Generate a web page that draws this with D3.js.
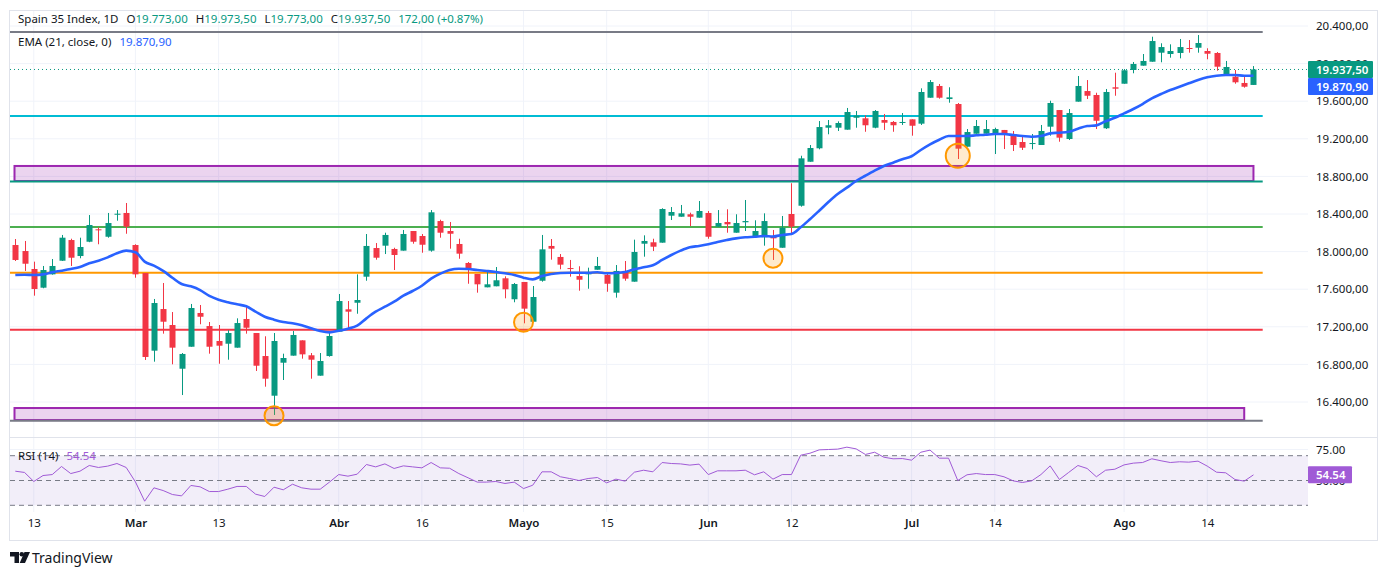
<!DOCTYPE html>
<html>
<head>
<meta charset="utf-8">
<script src="https://cdn.jsdelivr.net/npm/d3@7"></script>
<style>
  body { margin: 0; background: #fff; }
  svg { display: block; font-family: "Noto Sans", sans-serif; }
</style>
</head>
<body>
<div id="chart"></div>
<script>
// ---- data ----
const firstDay = "2026-02-11";
const lastDay = "2026-08-21";
const holidays = ["2026-04-03", "2026-04-06", "2026-05-01"];

const opens = [
  18070, 18006, 17815, 17616, 17758, 17903, 18123, 17953, 18105, 18237,
  18158, 18397, 18411, 18070, 17772, 16946, 17389, 17219, 16754, 16988,
  17347, 17208, 17049, 17020, 16978, 17283, 17134, 16889, 16467, 16818,
  16893, 17056, 16897, 16680, 16889, 17148, 17386, 17456, 17733, 18038,
  18063, 18028, 18010, 18219, 18166, 18010, 18325, 18219, 18081, 17879,
  17762, 17620, 17631, 17716, 17493, 17677, 17254, 17690, 18060, 17943,
  17825, 17740, 17758, 17807, 17751, 17563, 17794, 17680, 18084, 18099,
  18095, 18382, 18371, 18397, 18361, 18411, 18265, 18315, 18201, 18312,
  18158, 18152, 18166, 18041, 18400, 18488, 18956, 19099, 19318, 19318,
  19297, 19424, 19418, 19318, 19400, 19379, 19371, 19407, 19361, 19637,
  19762, 19623, 19570, 19116, 19254, 19254, 19244, 19294, 19248, 19166,
  19145, 19134, 19329, 19506, 19198, 19595, 19708, 19666, 19312, 19748,
  19786, 19932, 19978, 20020, 20116, 20102, 20113, 20166, 20169, 20134,
  20113, 19889, 19861, 19794, 19773
];
const highs = [
  18134, 18113, 17893, 17847, 17921, 18177, 18137, 18148, 18389, 18258,
  18411, 18442, 18517, 18078, 17772, 17496, 17666, 17357, 16921, 17443,
  17432, 17251, 17219, 17163, 17290, 17432, 17134, 17099, 17134, 16914,
  17155, 17056, 16921, 16921, 17137, 17549, 17474, 17758, 18187, 18091,
  18201, 18041, 18230, 18219, 18187, 18442, 18339, 18315, 18137, 17889,
  17762, 17804, 17836, 17737, 17666, 17677, 17634, 18177, 18134, 17974,
  17911, 17844, 17829, 17943, 17775, 17857, 17900, 18127, 18173, 18137,
  18461, 18474, 18496, 18414, 18538, 18432, 18442, 18450, 18397, 18549,
  18333, 18407, 18230, 18379, 18727, 19020, 19134, 19389, 19400, 19386,
  19528, 19496, 19450, 19506, 19464, 19389, 19474, 19407, 19737, 19825,
  19783, 19748, 19581, 19304, 19400, 19400, 19318, 19294, 19283, 19230,
  19251, 19347, 19605, 19506, 19517, 19868, 19825, 19690, 19730, 19903,
  19942, 20017, 20102, 20286, 20216, 20205, 20262, 20251, 20304, 20163,
  20123, 20028, 19932, 19865, 19973.5
];
const lows = [
  17900, 17794, 17531, 17610, 17755, 17900, 17847, 17929, 18100, 18078,
  18148, 18329, 18190, 17722, 16847, 16829, 17127, 16801, 16474, 16988,
  17227, 16914, 16807, 16850, 16978, 17127, 16730, 16563, 16262, 16634,
  16893, 16861, 16648, 16680, 16882, 17148, 17169, 17339, 17690, 17914,
  17974, 17804, 18010, 18084, 17988, 17999, 18148, 18031, 17924, 17658,
  17563, 17620, 17631, 17503, 17461, 17237, 17254, 17680, 17914, 17812,
  17733, 17584, 17605, 17807, 17573, 17510, 17690, 17680, 17946, 18006,
  18095, 18336, 18371, 18272, 18361, 18137, 18265, 18201, 18201, 18219,
  18158, 18063, 17911, 18041, 18177, 18478, 18956, 19088, 19248, 19283,
  19297, 19318, 19275, 19312, 19294, 19275, 19347, 19233, 19347, 19637,
  19627, 19584, 18985, 19116, 19254, 19254, 19038, 19091, 19070, 19081,
  19088, 19134, 19233, 19169, 19187, 19595, 19623, 19304, 19304, 19658,
  19786, 19897, 19978, 20020, 20014, 20063, 20056, 20116, 20116, 20046,
  19924, 19889, 19786, 19744, 19773
];
const closes = [
  17911, 17871, 17602, 17804, 17847, 18148, 17935, 18049, 18283, 18227,
  18304, 18403, 18265, 17758, 16879, 17453, 17254, 16978, 16911, 17400,
  17307, 16988, 16999, 17134, 17240, 17190, 16786, 16648, 17049, 16868,
  17113, 16907, 16850, 16836, 17102, 17474, 17361, 17485, 18060, 17935,
  18177, 17964, 18187, 18105, 18073, 18418, 18201, 18190, 17978, 17807,
  17652, 17652, 17695, 17599, 17655, 17393, 17517, 18024, 18031, 17861,
  17818, 17701, 17775, 17847, 17658, 17794, 17712, 17996, 18113, 18052,
  18453, 18421, 18407, 18371, 18432, 18158, 18304, 18290, 18304, 18325,
  18219, 18325, 18141, 18254, 18265, 18992, 19102, 19325, 19344, 19368,
  19485, 19446, 19344, 19496, 19371, 19344, 19379, 19339, 19698, 19804,
  19637, 19641, 19095, 19272, 19336, 19304, 19304, 19240, 19134, 19105,
  19155, 19283, 19581, 19212, 19474, 19762, 19658, 19392, 19698, 19733,
  19929, 19996, 20028, 20240, 20176, 20134, 20176, 20158, 20219, 20105,
  19967, 19964, 19801, 19754, 19937.5
];
const ema21 = [
  17751, 17754, 17751, 17758, 17780, 17797, 17815, 17836, 17875, 17903,
  17939, 17982, 18010, 17993, 17893, 17850, 17794, 17722, 17655, 17631,
  17591, 17528, 17488, 17461, 17439, 17418, 17361, 17307, 17276, 17251,
  17237, 17216, 17184, 17155, 17141, 17158, 17180, 17212, 17290, 17361,
  17414, 17467, 17531, 17581, 17637, 17712, 17765, 17804, 17818, 17815,
  17804, 17794, 17783, 17769, 17751, 17722, 17705, 17740, 17762, 17772,
  17775, 17775, 17775, 17780, 17769, 17772, 17783, 17812, 17833, 17854,
  17911, 17964, 18010, 18046, 18060, 18078, 18102, 18123, 18141, 18152,
  18158, 18166, 18161, 18177, 18187, 18258, 18344, 18435, 18528, 18613,
  18680, 18751, 18807, 18861, 18911, 18946, 18982, 19014, 19081, 19141,
  19190, 19230, 19230, 19230, 19237, 19243, 19251, 19251, 19240, 19230,
  19222, 19230, 19258, 19265, 19275, 19307, 19336, 19343, 19386, 19424,
  19471, 19517, 19570, 19631, 19676, 19719, 19754, 19790, 19825, 19854,
  19871, 19879, 19879, 19871, 19870.9
];
const rsi14 = [
  57.5, 56.5, 49.2, 54.0, 54.8, 61.3, 55.6, 57.5, 62.1, 60.5,
  61.6, 63.7, 60.5, 48.9, 33.3, 44.1, 41.9, 38.7, 37.6, 46.0,
  44.9, 41.1, 41.1, 43.0, 45.2, 45.2, 39.0, 37.1, 44.6, 42.5,
  47.0, 44.1, 43.0, 43.0, 48.7, 54.8, 53.5, 55.1, 62.9, 61.0,
  63.4, 59.7, 61.8, 61.0, 60.2, 64.5, 60.2, 59.9, 55.6, 52.2,
  48.7, 48.7, 49.2, 47.6, 48.7, 43.5, 46.2, 57.0, 57.0, 53.0,
  51.6, 50.0, 51.6, 52.4, 48.1, 51.1, 49.5, 56.7, 58.3, 57.0,
  64.5, 63.7, 63.4, 62.4, 63.2, 54.8, 57.8, 57.8, 57.8, 58.3,
  54.6, 57.0, 51.1, 54.8, 54.8, 70.4, 72.0, 74.7, 75.0, 75.3,
  76.9, 75.5, 71.0, 72.8, 68.8, 67.5, 67.7, 66.4, 72.8, 74.5,
  68.0, 68.0, 50.0, 54.6, 55.6, 54.8, 54.8, 53.0, 49.7, 48.4,
  49.7, 54.8, 61.8, 50.8, 56.5, 62.1, 59.7, 53.0, 58.3, 59.1,
  62.6, 64.0, 64.5, 67.5, 65.9, 64.5, 65.1, 64.8, 65.6, 61.6,
  56.7, 56.2, 50.8, 49.5, 54.54
];

const priceTicks = [16400, 16800, 17200, 17600, 18000, 18400, 18800, 19200, 19600, 20000, 20400];
const rsiTicks = [75, 50];
const rsiBands = [70, 50, 30];
const tickDates = ["2026-02-13", "2026-03-02", "2026-03-13", "2026-04-01", "2026-04-16", "2026-05-04",
                   "2026-05-15", "2026-06-01", "2026-06-12", "2026-07-01", "2026-07-14", "2026-08-03", "2026-08-14"];
const tickLabels = ["13", "Mar", "13", "Abr", "16", "Mayo", "15", "Jun", "12", "Jul", "14", "Ago", "14"];
const monthLabels = ["Mar", "Abr", "Mayo", "Jun", "Jul", "Ago"];

// horizontal levels and zones drawn on the chart
const levelValues = [20336, 19443, 18745, 18262, 17776, 17169, 16200];
const zoneLows = [18751, 16208];
const zoneHighs = [18911, 16336];
const zoneEndBar = [134, 133];
// highlighted lows (bar index, price)
const markBars = [28, 55, 82, 102];
const markPrices = [16254, 17248, 17929, 19020];

const header = { open: 19773, high: 19973.5, low: 19773, close: 19937.5, change: 172, pct: 0.87 };

// ---- layout ----
const width = 1388, height = 575;
const plot = { left: 10, right: 1308, top: 10, bottom: 437 };
const rsiPane = { top: 437, bottom: 512 };
const barStep = 9.24;
const green = "#089981", red = "#f23645", ink = "#131722";
const levelColors = ["#787b86", "#00bcd4", "#089981", "#4caf50", "#ff9800", "#f23645", "#787b86"];
const rsiColor = "#a05ad6";

const parse = d3.timeParse("%Y-%m-%d");
const fmtDay = d3.timeFormat("%Y-%m-%d");
const dates = d3.timeDay.range(parse(firstDay), d3.timeDay.offset(parse(lastDay), 1))
  .filter(d => d.getDay() !== 0 && d.getDay() !== 6)
  .map(fmtDay)
  .filter(d => !holidays.includes(d));

const candles = dates.map((d, i) => ({ date: d, o: opens[i], h: highs[i], l: lows[i], c: closes[i] }));

const es = d3.formatLocale({ decimal: ",", thousands: ".", grouping: [3], currency: ["", ""] });
const fmtPrice = es.format(",.2f");

// scales
const x = d3.scalePoint()
  .domain(dates)
  .range([plot.left + 5.3, plot.left + 5.3 + (dates.length - 1) * barStep]);

const y = d3.scaleLinear()
  .domain([16400, 20400])
  .range([402, 26]);

const yRsi = d3.scaleLinear()
  .domain([30, 70])
  .range([505.3, 455.7]);

const svg = d3.select("#chart")
  .append("svg")
  .attr("width", width)
  .attr("height", height)
  .attr("viewBox", `0 0 ${width} ${height}`);

svg.append("rect").attr("width", width).attr("height", height).attr("fill", "#fff");

svg.append("clipPath").attr("id", "clip-main")
  .append("rect")
  .attr("x", plot.left).attr("y", plot.top)
  .attr("width", plot.right - plot.left).attr("height", plot.bottom - plot.top);

// grid
const grid = svg.append("g").attr("stroke", "#f0f3fa").attr("stroke-width", 1);
grid.selectAll("line.v")
  .data(tickDates)
  .join("line")
    .attr("class", "v")
    .attr("x1", d => x(d)).attr("x2", d => x(d))
    .attr("y1", plot.top).attr("y2", rsiPane.bottom);
grid.selectAll("line.h")
  .data(priceTicks)
  .join("line")
    .attr("class", "h")
    .attr("x1", plot.left).attr("x2", plot.right)
    .attr("y1", d => y(d)).attr("y2", d => y(d));
grid.append("line")
  .attr("x1", plot.left).attr("x2", plot.right)
  .attr("y1", yRsi(75)).attr("y2", yRsi(75));

// main pane
const main = svg.append("g").attr("clip-path", "url(#clip-main)");
const lineEnd = x(dates[dates.length - 1]) + barStep;

// zones
main.selectAll("rect.zone")
  .data(zoneLows)
  .join("rect")
    .attr("class", "zone")
    .attr("x", plot.left + 4.5)
    .attr("y", (d, i) => y(zoneHighs[i]))
    .attr("width", (d, i) => x(dates[zoneEndBar[i]]) - plot.left - 4.5)
    .attr("height", (d, i) => y(d) - y(zoneHighs[i]))
    .attr("fill", "rgba(156, 39, 176, 0.2)")
    .attr("stroke", "#9c27b0")
    .attr("stroke-width", 2);

// levels
main.selectAll("line.level")
  .data(levelValues)
  .join("line")
    .attr("class", "level")
    .attr("x1", plot.left).attr("x2", lineEnd)
    .attr("y1", d => y(d)).attr("y2", d => y(d))
    .attr("stroke", (d, i) => levelColors[i])
    .attr("stroke-width", 2);

// candles
const bars = main.append("g").selectAll("g")
  .data(candles)
  .join("g")
    .attr("fill", d => d.c >= d.o ? green : red)
    .attr("stroke", d => d.c >= d.o ? green : red);

bars.append("line")
  .attr("x1", d => Math.round(x(d.date)) + 0.5)
  .attr("x2", d => Math.round(x(d.date)) + 0.5)
  .attr("y1", d => y(d.h))
  .attr("y2", d => y(d.l))
  .attr("stroke-width", 1);

bars.append("rect")
  .attr("x", d => Math.round(x(d.date)) - 2.5)
  .attr("y", d => y(Math.max(d.o, d.c)))
  .attr("width", 6)
  .attr("height", d => Math.max(1, Math.abs(y(d.o) - y(d.c))))
  .attr("stroke", "none");

// EMA 21
main.append("path")
  .datum(ema21)
  .attr("fill", "none")
  .attr("stroke", "#2962ff")
  .attr("stroke-width", 2.6)
  .attr("stroke-linejoin", "round")
  .attr("d", d3.line().x((d, i) => x(dates[i])).y(d => y(d)).curve(d3.curveMonotoneX));

// highlighted lows
main.selectAll("circle.mark")
  .data(markBars)
  .join("circle")
    .attr("class", "mark")
    .attr("cx", d => x(dates[d]))
    .attr("cy", (d, i) => y(markPrices[i]))
    .attr("r", (d, i) => i === 3 ? 12 : 9.5)
    .attr("fill", "rgba(255, 152, 0, 0.2)")
    .attr("stroke", "#ff9800")
    .attr("stroke-width", 2);

// last price line
main.append("line")
  .attr("x1", plot.left).attr("x2", plot.right)
  .attr("y1", y(header.close)).attr("y2", y(header.close))
  .attr("stroke", green)
  .attr("stroke-width", 1)
  .attr("stroke-dasharray", "1,3");

// RSI pane
svg.append("rect")
  .attr("x", plot.left).attr("width", plot.right - plot.left)
  .attr("y", yRsi(70)).attr("height", yRsi(30) - yRsi(70))
  .attr("fill", "rgba(126, 87, 194, 0.1)");

svg.selectAll("line.band")
  .data(rsiBands)
  .join("line")
    .attr("class", "band")
    .attr("x1", plot.left).attr("x2", plot.right)
    .attr("y1", d => yRsi(d)).attr("y2", d => yRsi(d))
    .attr("stroke", "#787b86")
    .attr("stroke-width", 1)
    .attr("stroke-dasharray", "5,4");

svg.append("path")
  .datum(rsi14)
  .attr("fill", "none")
  .attr("stroke", rsiColor)
  .attr("stroke-width", 1)
  .attr("d", d3.line().x((d, i) => x(dates[i])).y(d => yRsi(d)));

// frame and separators
const frame = svg.append("g").attr("stroke", "#e0e3eb").attr("fill", "none");
frame.append("rect").attr("x", 9.5).attr("y", 10.5).attr("width", 1368).attr("height", 530);
frame.append("line").attr("x1", 10).attr("x2", 1378).attr("y1", plot.bottom + 0.5).attr("y2", plot.bottom + 0.5);

// price axis
const priceAxis = svg.append("g")
  .attr("transform", `translate(${plot.right},0)`)
  .call(d3.axisRight(y).tickValues(priceTicks).tickFormat(fmtPrice).tickSize(0).tickPadding(8));
priceAxis.select(".domain").remove();
priceAxis.selectAll("text").attr("fill", ink).attr("font-size", 11.5).attr("font-family", "Noto Sans");

// RSI axis
const rsiAxis = svg.append("g")
  .attr("transform", `translate(${plot.right},0)`)
  .call(d3.axisRight(yRsi).tickValues(rsiTicks).tickFormat(d3.format(".2f")).tickSize(0).tickPadding(8));
rsiAxis.select(".domain").remove();
rsiAxis.selectAll("text").attr("fill", ink).attr("font-size", 11.5).attr("font-family", "Noto Sans");

// time axis
const timeAxis = svg.append("g")
  .attr("transform", `translate(0,${rsiPane.bottom})`)
  .call(d3.axisBottom(x).tickValues(tickDates).tickFormat((d, i) => tickLabels[i]).tickSize(0).tickPadding(7));
timeAxis.select(".domain").remove();
timeAxis.selectAll("text")
  .attr("fill", ink)
  .attr("font-size", 11.5)
  .attr("font-family", "Noto Sans")
  .attr("font-weight", (d, i) => monthLabels.includes(tickLabels[i]) ? 600 : 400);

// value labels on the scales
const lastClose = closes[closes.length - 1];
const lastEma = ema21[ema21.length - 1];
const lastRsi = rsi14[rsi14.length - 1];
const boxes = [
  { y: y(lastClose) - 8.5, color: green, text: fmtPrice(lastClose), w: 65 },
  { y: y(lastClose) + 8.5, color: "#2962ff", text: fmtPrice(lastEma), w: 65 },
  { y: yRsi(lastRsi) - 8.5, color: rsiColor, text: d3.format(".2f")(lastRsi), w: 44 }
];
const boxG = svg.append("g").selectAll("g").data(boxes).join("g");
boxG.append("rect")
  .attr("x", plot.right)
  .attr("y", d => d.y)
  .attr("width", d => d.w)
  .attr("height", 17)
  .attr("rx", 1)
  .attr("fill", d => d.color);
boxG.append("text")
  .attr("x", plot.right + 8)
  .attr("y", d => d.y + 12.8)
  .attr("fill", "#fff")
  .attr("font-size", 11.5)
  .attr("font-weight", 600)
  .text(d => d.text);

// legends
const legend = svg.append("text").attr("x", 18).attr("y", 22.5).attr("font-size", 11.5).attr("fill", ink);
legend.append("tspan").text("Spain 35 Index, 1D");
[["O", header.open], ["H", header.high], ["L", header.low], ["C", header.close]].forEach(([k, v]) => {
  legend.append("tspan").attr("dx", 8).text(k);
  legend.append("tspan").attr("fill", green).text(fmtPrice(v));
});
legend.append("tspan").attr("dx", 8).attr("fill", green)
  .text(`${fmtPrice(header.change)} (+${d3.format(".2f")(header.pct)}%)`);

const emaLegend = svg.append("text").attr("x", 18).attr("y", 46).attr("font-size", 11.5).attr("fill", ink);
emaLegend.append("tspan").text("EMA (21, close, 0)");
emaLegend.append("tspan").attr("dx", 8).attr("fill", "#2962ff").text(fmtPrice(lastEma));

const rsiLegend = svg.append("text").attr("x", 18).attr("y", 459.5).attr("font-size", 11.5).attr("fill", ink);
rsiLegend.append("tspan").text("RSI (14)");
rsiLegend.append("tspan").attr("dx", 8).attr("fill", rsiColor).text(d3.format(".2f")(lastRsi));

// TradingView mark
const logo = svg.append("g").attr("fill", ink);
logo.append("path").attr("d", "M10 552h9v11h-4.5v-6.5H10z");
logo.append("circle").attr("cx", 21.8).attr("cy", 554.3).attr("r", 2.3);
logo.append("path").attr("d", "M24.5 552h5.5l-5 11h-5.3z");
svg.append("text").attr("x", 32).attr("y", 562.5).attr("font-size", 14).attr("fill", ink).text("TradingView");
</script>
</body>
</html>
